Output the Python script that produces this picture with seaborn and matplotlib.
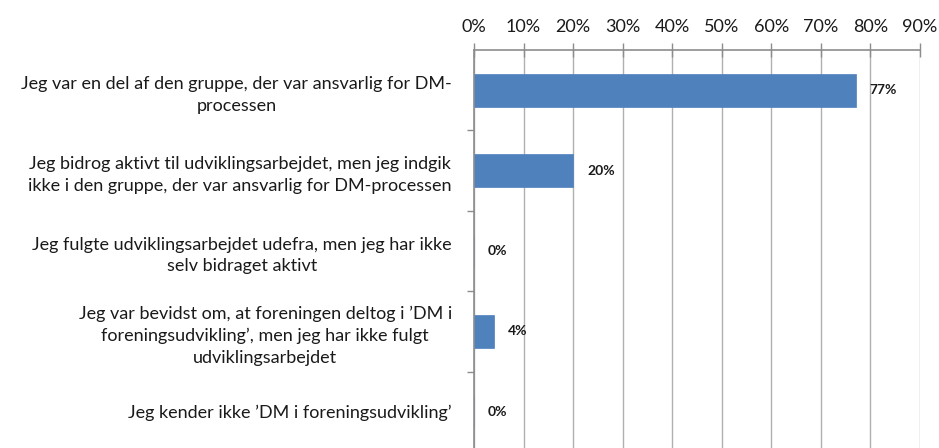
import matplotlib
matplotlib.use("Agg")
import matplotlib.pyplot as plt
import seaborn as sns
import pandas as pd
import numpy as np
from matplotlib.ticker import FixedLocator

categories = [
    "Jeg var en del af den gruppe, der var ansvarlig for DM-\nprocessen",
    "Jeg bidrog aktivt til udviklingsarbejdet, men jeg indgik\nikke i den gruppe, der var ansvarlig for DM-processen",
    "Jeg fulgte udviklingsarbejdet udefra, men jeg har ikke\nselv bidraget aktivt",
    "Jeg var bevidst om, at foreningen deltog i \u2019DM i\nforeningsudvikling\u2019, men jeg har ikke fulgt\nudviklingsarbejdet",
    "Jeg kender ikke \u2019DM i foreningsudvikling\u2019",
]
values = [77, 20, 0, 4, 0]
value_labels = ["77%", "20%", "0%", "4%", "0%"]
x_ticks = [0, 10, 20, 30, 40, 50, 60, 70, 80, 90]
x_tick_labels = [f"{t}%" for t in x_ticks]

sns.set_theme(style="white")
plt.rcParams['font.family'] = ['Lato', 'DejaVu Sans']

df = pd.DataFrame({"cat": categories, "val": values})

fig = plt.figure(figsize=(9.39, 4.48), dpi=100)
ax = fig.add_axes([474/939, -4/448, 446/939, 402/448])

sns.barplot(data=df, y="cat", x="val", orient="h", color="#4F81BD",
            width=0.41, ax=ax, saturation=1, edgecolor="#4F81BD", linewidth=0.5)

ax.set_xlim(0, 90)
ax.set_ylim(4.5, -0.5)
ax.xaxis.tick_top()
ax.set_xticks(x_ticks)
ax.set_xticklabels(x_tick_labels, fontsize=13, color="#1a1a1a")
ax.set_xlabel("")
ax.set_ylabel("")
ax.set_yticks(range(len(categories)))
ax.set_yticklabels(categories, fontsize=13, color="#1a1a1a", ha="right",
                   multialignment="center")
for lbl in ax.get_yticklabels():
    lbl.set_linespacing(1.45)
ax.tick_params(axis="y", which="major", length=0, pad=16)
ax.yaxis.set_minor_locator(FixedLocator([0.5, 1.5, 2.5, 3.5]))
ax.tick_params(axis="y", which="minor", length=5, width=1, color="#8c8c8c", left=True)
ax.tick_params(axis="x", which="major", direction="inout", length=10, width=1,
               color="#8c8c8c", pad=6, top=True, bottom=False)

ax.grid(axis="x", color="#b0b0b0", linewidth=1)
ax.set_axisbelow(True)
for s in ["right", "bottom"]:
    ax.spines[s].set_visible(False)
for s in ["top", "left"]:
    ax.spines[s].set_visible(True)
    ax.spines[s].set_color("#8c8c8c")
    ax.spines[s].set_linewidth(1.2)

ax.bar_label(ax.containers[0], labels=value_labels, padding=10,
             fontsize=10, fontweight="bold", color="#1a1a1a")

fig.savefig("out.png", dpi=100)
